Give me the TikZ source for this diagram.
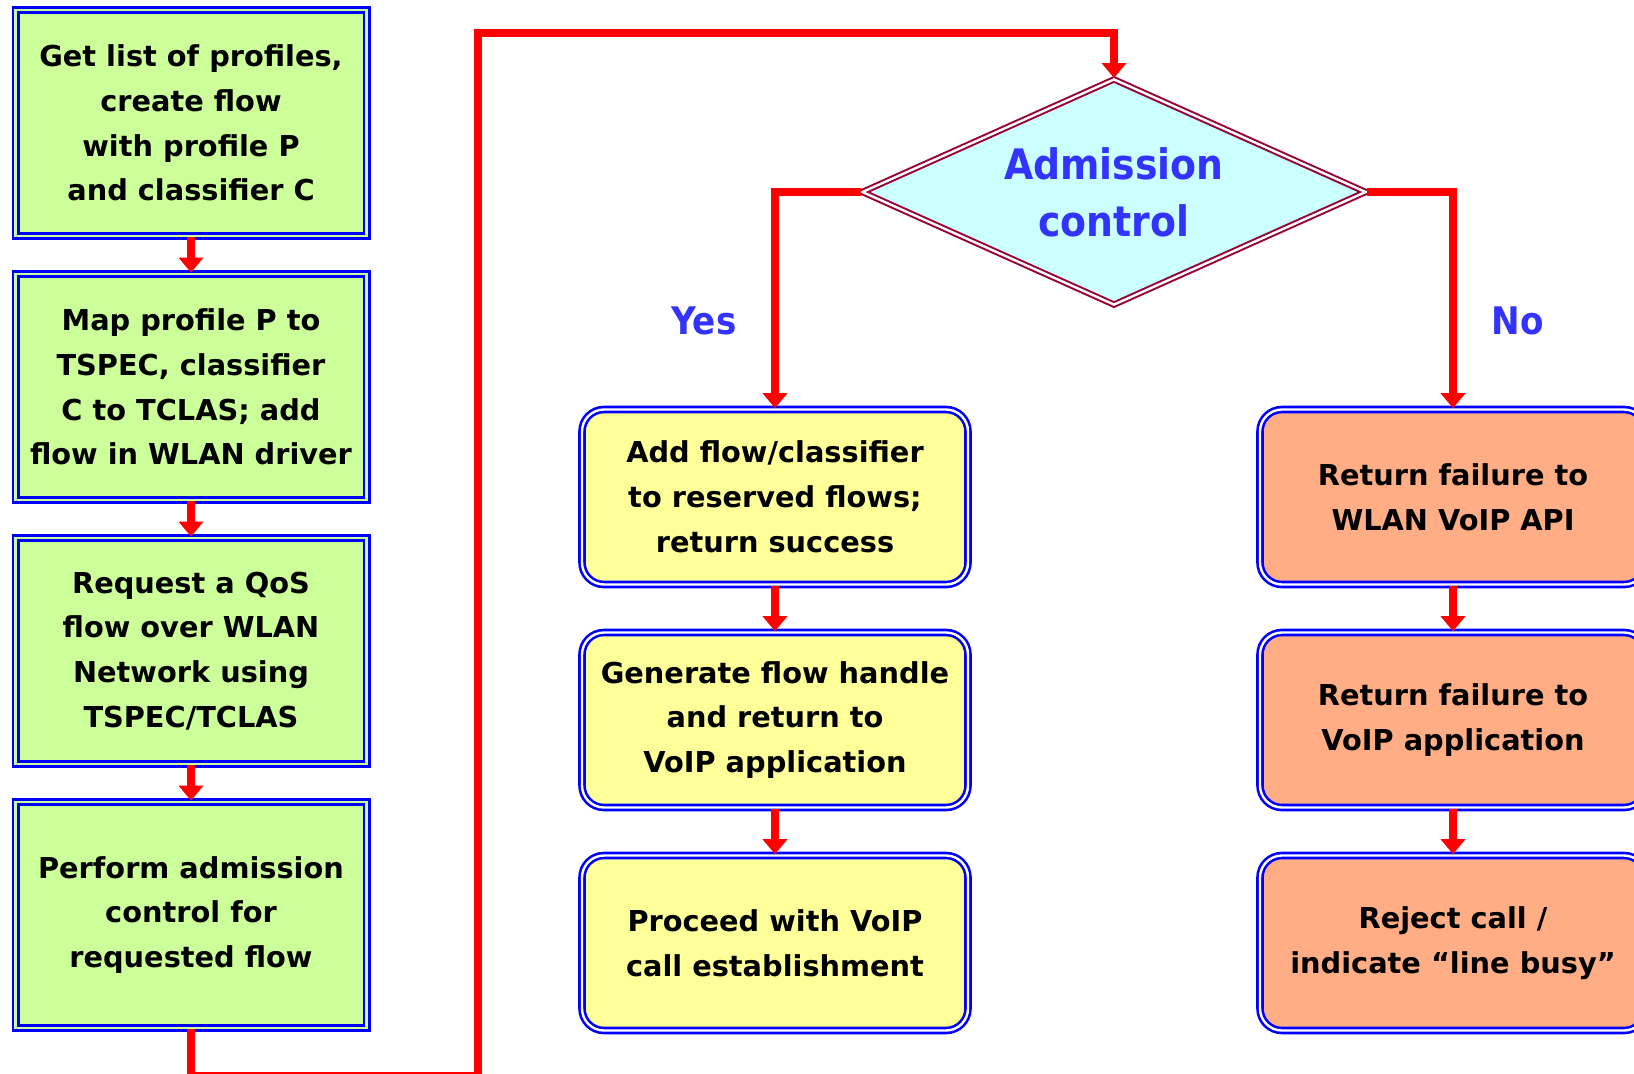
\documentclass[tikz,border=0pt]{standalone}
\usepackage{fontspec}
\setmainfont{DejaVu Sans}
\newfontfamily\condfont{DejaVu Sans Condensed}
\usetikzlibrary{shapes.geometric,arrows.meta}
\definecolor{boxgreen}{RGB}{204,255,153}
\definecolor{boxyellow}{RGB}{255,255,153}
\definecolor{boxorange}{RGB}{255,173,133}
\definecolor{diacyan}{RGB}{204,255,255}
\definecolor{diared}{RGB}{153,0,51}
\definecolor{textblue}{RGB}{51,51,255}

\begin{document}
\begin{tikzpicture}[x=0.5pt, y=-0.5pt,
	boxtext/.style={align=center, font=\fontsize{14.4pt}{22.4pt}\selectfont\bfseries},
	stepbox/.style={boxtext, draw=blue, line width=1.4pt, double=boxgreen, double distance=1.2pt,
		fill=boxgreen, minimum width=175.5pt, minimum height=113pt, inner sep=0pt},
	yesbox/.style={boxtext, draw=blue, line width=1.3pt, double=white, double distance=1.2pt,
		rounded corners=11pt, fill=boxyellow, minimum width=193pt, minimum height=87.5pt, inner sep=0pt},
	nobox/.style={yesbox, fill=boxorange},
	decision/.style={diamond, draw=diared, line width=1pt, double=white, double distance=1.2pt,
		fill=diacyan, minimum width=252pt, minimum height=113pt, inner sep=0pt, aspect=2.2,
		align=center, text=textblue, font=\condfont\fontsize{21pt}{28.5pt}\selectfont\bfseries},
	branch/.style={text=textblue, font=\condfont\fontsize{19pt}{24pt}\selectfont\bfseries},
	flow/.style={red, line width=4pt, -{Triangle[width=12pt,length=7.5pt]}}]

	\path[fill=white,use as bounding box] (0,0) rectangle (1634,1073);

	\node[stepbox] (get) at (191,123) {Get list of profiles,\\create flow\\with profile P\\and classifier C};
	\node[stepbox] (map) at (191,387) {Map profile P to\\TSPEC, classifier\\C to TCLAS; add\\flow in WLAN driver};
	\node[stepbox] (req) at (191,651) {Request a QoS\\flow over WLAN\\Network using\\TSPEC/TCLAS};
	\node[stepbox] (perf) at (191,915) {Perform admission\\control for\\requested flow};

	\node[decision] (adm) at (1114,192) {Admission\\control};

	\node[branch] (yes) at (704,321) {Yes};
	\node[branch] (no) at (1518,321) {No};

	\node[yesbox] (add) at (775,497) {Add flow/classifier\\to reserved flows;\\return success};
	\node[yesbox] (gen) at (775,720) {Generate flow handle\\and return to\\VoIP application};
	\node[yesbox] (proc) at (775,943) {Proceed with VoIP\\call establishment};

	\node[nobox] (fapi) at (1453,497) {Return failure to\\WLAN VoIP API};
	\node[nobox] (fapp) at (1453,720) {Return failure to\\VoIP application};
	\node[nobox] (rej) at (1453,943) {Reject call /\\indicate “line busy”};

	\coordinate (lb) at (478,1076);
	\coordinate (lt) at (478,33);

	\draw[flow] (get) -- (map);
	\draw[flow] (map) -- (req);
	\draw[flow] (req) -- (perf);
	\draw[flow] (perf.south) |- (lb) -- (lt) -| (adm.north);

	\draw[flow] (adm.west) -| (add.north);
	\draw[flow] (adm.east) -| (fapi.north);

	\draw[flow] (add) -- (gen);
	\draw[flow] (gen) -- (proc);
	\draw[flow] (fapi) -- (fapp);
	\draw[flow] (fapp) -- (rej);
\end{tikzpicture}
\end{document}
